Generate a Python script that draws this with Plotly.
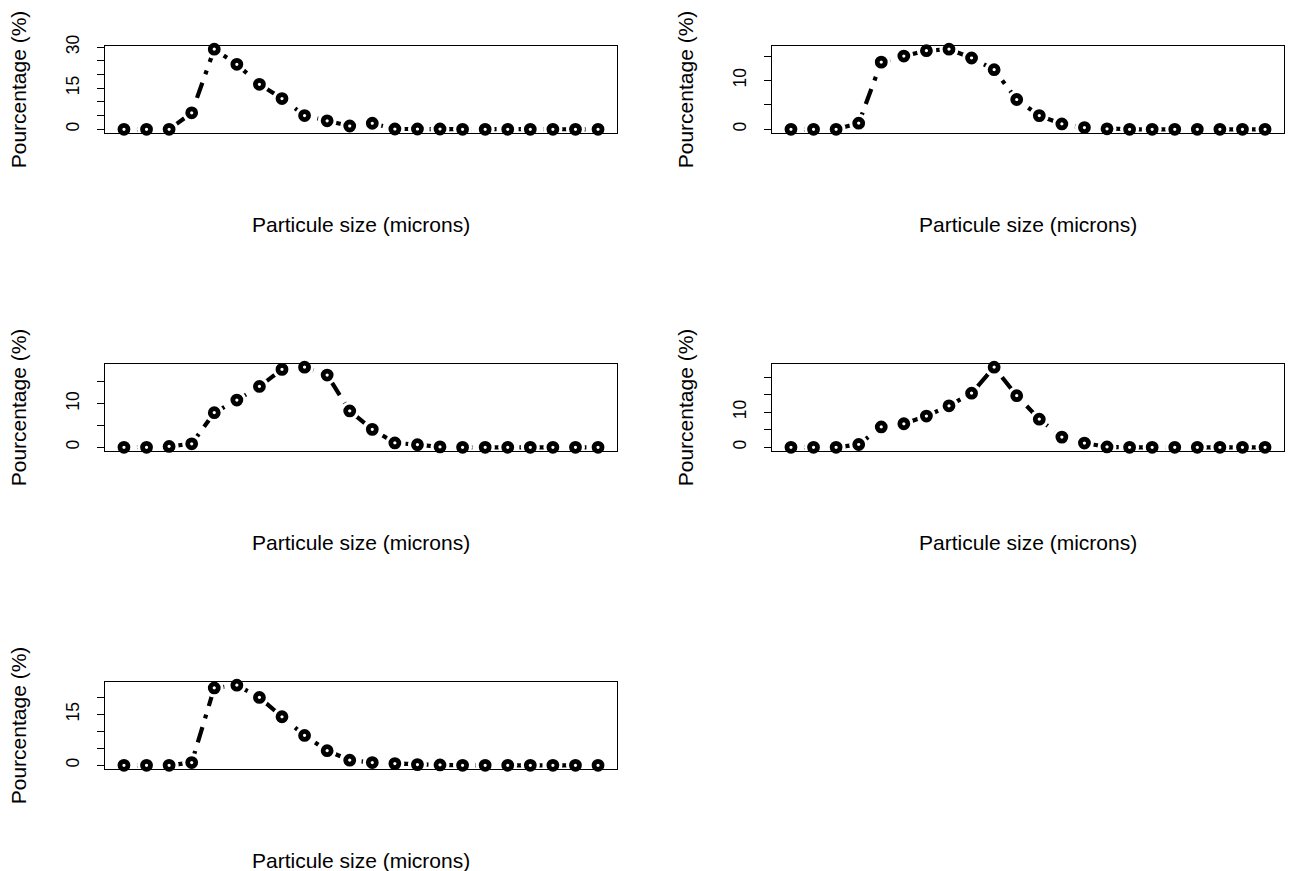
import plotly.graph_objects as go

W, H = 1292, 871

# Particle size classes (index only, x axis is unlabeled)
size_class = list(range(1, 23))

# Percentages per sample
sample1 = [0, 0, 0, 6.0, 29.2, 23.7, 16.4, 11.2, 5.0, 3.1, 1.2, 2.2, 0.1, 0.1, 0.1, 0, 0, 0, 0, 0, 0, 0]
sample2 = [0, 0, 0, 1.25, 13.75, 15.0, 16.1, 16.4, 14.6, 12.2, 6.1, 2.8, 1.1, 0.35, 0.1, 0, 0, 0, 0, 0, 0, 0]
sample3 = [0, 0, 0.2, 0.8, 7.9, 10.8, 13.9, 17.8, 18.3, 16.5, 8.3, 4.1, 1.0, 0.6, 0.1, 0, 0, 0, 0, 0, 0, 0]
sample4 = [0, 0, 0, 0.8, 5.8, 6.7, 8.9, 11.8, 15.4, 22.8, 14.7, 8.0, 2.9, 1.2, 0.1, 0, 0, 0, 0, 0, 0, 0]
sample5 = [0, 0, 0, 0.8, 22.8, 23.6, 20.0, 14.3, 8.8, 4.3, 1.5, 0.8, 0.5, 0.2, 0.1, 0, 0, 0, 0, 0, 0, 0]

samples = [sample1, sample2, sample3, sample4, sample5]

# Labelled y ticks per panel and minor tick step
tick_labels = [[0, 15, 30], [0, 10], [0, 10], [0, 10], [0, 15]]
minor_step = 5

x_title = "Particule size (microns)"
y_title = "Pourcentage (%)"

# panel boxes in pixels (left, right, top, bottom)
cols_px = [(105, 617), (772, 1284)]
rows_px = [(46, 132.5), (364, 450.5), (682, 768.5)]
positions = [(0, 0), (0, 1), (1, 0), (1, 1), (2, 0)]

FONT = "Liberation Sans, Arial, sans-serif"

fig = go.Figure()
annotations = []

for i, (vals, (r, c)) in enumerate(zip(samples, positions)):
    ax = "" if i == 0 else str(i + 1)
    xref, yref = "x" + ax, "y" + ax
    l, rgt = cols_px[c]
    t, b = rows_px[r]
    xdom = [l / W, rgt / W]
    ydom = [1 - b / H, 1 - t / H]

    fig.add_trace(go.Scatter(
        x=size_class, y=vals, mode="lines", xaxis=xref, yaxis=yref,
        line=dict(color="black", width=4.2, dash="4px,9px,16px,9px"),
        hoverinfo="skip", showlegend=False, cliponaxis=False))
    fig.add_trace(go.Scatter(
        x=size_class, y=vals, mode="markers", xaxis=xref, yaxis=yref,
        marker=dict(symbol="circle", size=19, color="white", line=dict(width=0)),
        hoverinfo="skip", showlegend=False, cliponaxis=False))
    fig.add_trace(go.Scatter(
        x=size_class, y=vals, mode="markers", xaxis=xref, yaxis=yref,
        marker=dict(symbol="circle", size=8, color="white",
                    line=dict(width=4.8, color="black")),
        showlegend=False, cliponaxis=False))

    xmin, xmax = min(size_class), max(size_class)
    xpad = 0.04 * (xmax - xmin)
    ymin, ymax = min(vals), max(vals)
    ypad = 0.04 * (ymax - ymin)

    fig.layout["xaxis" + ax] = dict(
        domain=xdom, anchor=yref, range=[xmin - xpad, xmax + xpad],
        showticklabels=False, ticks="", showgrid=False, zeroline=False,
        automargin=False,
        showline=True, mirror=True, linecolor="black", linewidth=1.3)
    fig.layout["yaxis" + ax] = dict(
        domain=ydom, anchor=xref, range=[ymin - ypad, ymax + ypad],
        tickmode="array", tickvals=tick_labels[i],
        ticktext=[str(v) for v in tick_labels[i]],
        ticks="outside", ticklen=7, tickwidth=1.2, tickcolor="black",
        tickangle=-90, ticklabelstandoff=11,
        tickfont=dict(family=FONT, size=17.5, color="black"),
        minor=dict(dtick=minor_step, tick0=0, ticks="outside", ticklen=7,
                   tickwidth=1.2, tickcolor="black", showgrid=False),
        showgrid=False, zeroline=False, automargin=False,
        showline=True, mirror=True, linecolor="black", linewidth=1.3)

    annotations.append(dict(
        text=x_title, xref="paper", yref="paper",
        x=(l + rgt) / 2 / W, y=1 - (b + 91.5) / H,
        showarrow=False, xanchor="center", yanchor="middle",
        font=dict(family=FONT, size=21, color="black")))
    annotations.append(dict(
        text=y_title, xref="paper", yref="paper",
        x=(l - 87) / W, y=1 - ((t + b) / 2) / H, textangle=-90,
        showarrow=False, xanchor="center", yanchor="middle",
        font=dict(family=FONT, size=21, color="black")))

fig.update_layout(
    template="none",
    width=W, height=H, margin=dict(l=0, r=0, t=0, b=0, pad=0),
    paper_bgcolor="white", plot_bgcolor="white",
    annotations=annotations, showlegend=False)

fig.write_html("out.html", config={"displayModeBar": False},
               post_script="document.body.style.margin='0';")
